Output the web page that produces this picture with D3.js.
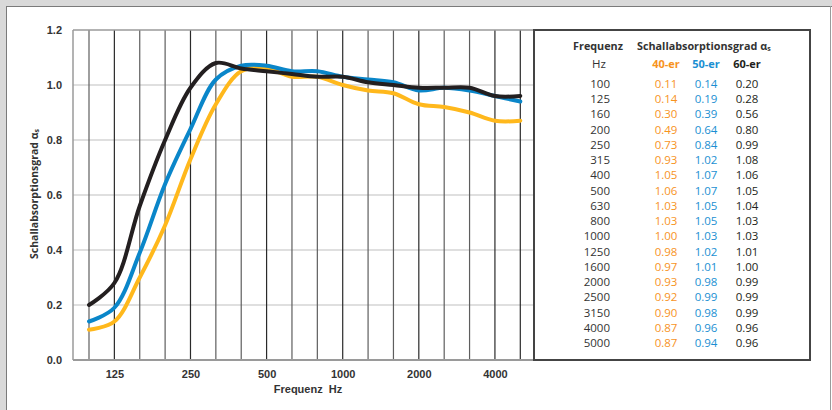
<!DOCTYPE html>
<html>
<head>
<meta charset="utf-8">
<script src="https://cdn.jsdelivr.net/npm/d3@7"></script>
<style>
  body { margin: 0; background: #fff; }
  svg { display: block; }
</style>
</head>
<body>
<div class="chart"></div>
<script>
(function(){
    const svgWidth = 832, svgHeight = 410;

    const freqs = ["100","125","160","200","250","315","400","500","630","800","1000","1250","1600","2000","2500","3150","4000","5000"];
    const s40 = [0.11,0.14,0.30,0.49,0.73,0.93,1.05,1.06,1.03,1.03,1.00,0.98,0.97,0.93,0.92,0.90,0.87,0.87];
    const s50 = [0.14,0.19,0.39,0.64,0.84,1.02,1.07,1.07,1.05,1.05,1.03,1.02,1.01,0.98,0.99,0.98,0.96,0.94];
    const s60 = [0.20,0.28,0.56,0.80,0.99,1.08,1.06,1.05,1.04,1.03,1.03,1.01,1.00,0.99,0.99,0.99,0.96,0.96];
    const xTickLabels = ["125","250","500","1000","2000","4000"];
    const yTicks = [0, 0.2, 0.4, 0.6, 0.8, 1.0, 1.2];

    const series = [
        { name: "40-er", values: s40, color: "#ffb81c", text: "#f7931e" },
        { name: "50-er", values: s50, color: "#0a86c9", text: "#1b8fd2" },
        { name: "60-er", values: s60, color: "#231f20", text: "#231f20" }
    ];

    const margin = { top: 30, left: 73 };
    const width = 461, height = 330;

    const svg = d3.select(".chart").append("svg")
        .attr("width", svgWidth)
        .attr("height", svgHeight);

    // page frame
    svg.append("rect").attr("x", 0).attr("y", 0).attr("width", svgWidth).attr("height", 6).attr("fill", "#d9d9d9");
    svg.append("rect").attr("x", 0).attr("y", 0).attr("width", 6).attr("height", svgHeight).attr("fill", "#d9d9d9");
    svg.append("line").attr("x1", 6).attr("x2", svgWidth).attr("y1", 6.5).attr("y2", 6.5).attr("stroke", "#7a7a7a");
    svg.append("line").attr("x1", 6.5).attr("x2", 6.5).attr("y1", 6).attr("y2", svgHeight).attr("stroke", "#7a7a7a");
    svg.append("line").attr("x1", 830.5).attr("x2", 830.5).attr("y1", 6).attr("y2", svgHeight).attr("stroke", "#9a9a9a");

    const chartGroup = svg.append("g")
        .attr("transform", `translate(${margin.left}, ${margin.top})`);

    const x = d3.scalePoint().domain(freqs).range([16, 447.3]);
    const y = d3.scaleLinear().domain([0, 1.2]).range([height, 0]);

    // horizontal grid
    chartGroup.append("g")
        .selectAll("line")
        .data(yTicks.filter(d => d > 0 && d < 1.2))
        .enter().append("line")
        .attr("x1", 0).attr("x2", width)
        .attr("y1", d => y(d)).attr("y2", d => y(d))
        .attr("stroke", "#d4d4d4").attr("stroke-width", 1.5);

    // vertical grid
    chartGroup.append("g")
        .selectAll("line")
        .data(freqs)
        .enter().append("line")
        .attr("x1", d => x(d)).attr("x2", d => x(d))
        .attr("y1", 0).attr("y2", height)
        .attr("stroke", (d, i) => i % 3 === 1 || i === 17 ? "#2a2a2a" : "#5e5e5e")
        .attr("stroke-width", 1.2);

    // plot frame (top, left, bottom in gray)
    chartGroup.append("line").attr("x1", 0).attr("x2", width).attr("y1", 0).attr("y2", 0)
        .attr("stroke", "#9a9a9a").attr("stroke-width", 1.5);
    chartGroup.append("line").attr("x1", 0).attr("x2", 0).attr("y1", 0).attr("y2", height)
        .attr("stroke", "#9a9a9a").attr("stroke-width", 1.5);
    chartGroup.append("line").attr("x1", 0).attr("x2", width).attr("y1", height).attr("y2", height)
        .attr("stroke", "#9a9a9a").attr("stroke-width", 2);

    // y axis labels
    const leftAxis = d3.axisLeft(y).tickValues(yTicks).tickFormat(d3.format(".1f")).tickSize(0).tickPadding(11);
    const yAxisG = chartGroup.append("g").call(leftAxis);
    yAxisG.select(".domain").remove();
    yAxisG.selectAll("text")
        .attr("font-family", "Liberation Sans, Arial, sans-serif")
        .attr("font-weight", "bold").attr("font-size", 11).attr("fill", "#333");

    // x axis labels
    const bottomAxis = d3.axisBottom(x).tickValues(xTickLabels).tickSize(0).tickPadding(10);
    const xAxisG = chartGroup.append("g").attr("transform", `translate(0, ${height})`).call(bottomAxis);
    xAxisG.select(".domain").remove();
    xAxisG.selectAll("text")
        .attr("font-family", "Liberation Sans, Arial, sans-serif")
        .attr("font-weight", "bold").attr("font-size", 11).attr("fill", "#333");

    // curves
    const line = d3.line()
        .x((d, i) => x(freqs[i]))
        .y(d => y(d))
        .curve(d3.curveCatmullRom.alpha(0.5));

    chartGroup.selectAll(".series")
        .data(series)
        .enter().append("path")
        .attr("class", "series")
        .attr("d", d => line(d.values))
        .attr("fill", "none")
        .attr("stroke", d => d.color)
        .attr("stroke-width", 4)
        .attr("stroke-linejoin", "round")
        .attr("stroke-linecap", "round");

    // axis titles
    svg.append("text")
        .attr("x", 308).attr("y", 393)
        .attr("text-anchor", "middle")
        .attr("font-family", "Liberation Sans, Arial, sans-serif")
        .attr("font-weight", "bold").attr("font-size", 11).attr("fill", "#333")
        .attr("xml:space", "preserve")
        .text("Frequenz  Hz");

    const yTitle = svg.append("text")
        .attr("transform", "translate(38, 194) rotate(-90)")
        .attr("text-anchor", "middle")
        .attr("font-family", "Open Sans, sans-serif")
        .attr("font-weight", "bold").attr("font-size", 10.5).attr("fill", "#333");
    yTitle.append("tspan").text("Schallabsorptionsgrad α");
    yTitle.append("tspan").attr("font-size", 7).attr("dy", 1).text("s");

    // table box
    const tx0 = 534, tx1 = 810;
    svg.append("rect")
        .attr("x", tx0).attr("y", 30).attr("width", tx1 - tx0).attr("height", 330)
        .attr("fill", "none").attr("stroke", "#444").attr("stroke-width", 2);

    const tFont = "Open Sans, Noto Sans, sans-serif";
    const table = svg.append("g").attr("font-family", tFont).attr("font-size", 11.5);

    table.append("text").attr("x", 598).attr("y", 50).attr("text-anchor", "middle")
        .attr("font-size", 10.8).attr("font-weight", "bold").attr("fill", "#333").text("Frequenz");
    const head = table.append("text").attr("x", 637).attr("y", 50)
        .attr("font-size", 10.8).attr("font-weight", "bold").attr("fill", "#333");
    head.append("tspan").text("Schallabsorptionsgrad α");
    head.append("tspan").attr("font-size", 7).attr("dy", 1).text("s");
    table.append("text").attr("x", 599).attr("y", 68).attr("text-anchor", "middle")
        .attr("fill", "#333").text("Hz");

    const colX = [666, 706, 747];
    series.forEach((s, j) => {
        table.append("text").attr("x", colX[j]).attr("y", 68).attr("text-anchor", "middle")
            .attr("font-size", 11).attr("font-weight", "bold").attr("fill", s.text).text(s.name);
    });

    const rowY = d3.scaleLinear().domain([0, freqs.length - 1]).range([88, 347]);
    table.selectAll(".freq")
        .data(freqs)
        .enter().append("text")
        .attr("class", "freq")
        .attr("x", 610).attr("y", (d, i) => rowY(i))
        .attr("text-anchor", "end").attr("fill", "#333")
        .text(d => d);

    series.forEach((s, j) => {
        table.selectAll(".v" + j)
            .data(s.values)
            .enter().append("text")
            .attr("class", "v" + j)
            .attr("x", colX[j]).attr("y", (d, i) => rowY(i))
            .attr("text-anchor", "middle").attr("fill", s.text)
            .text(d => d.toFixed(2));
    });
})();
</script>
</body>
</html>
